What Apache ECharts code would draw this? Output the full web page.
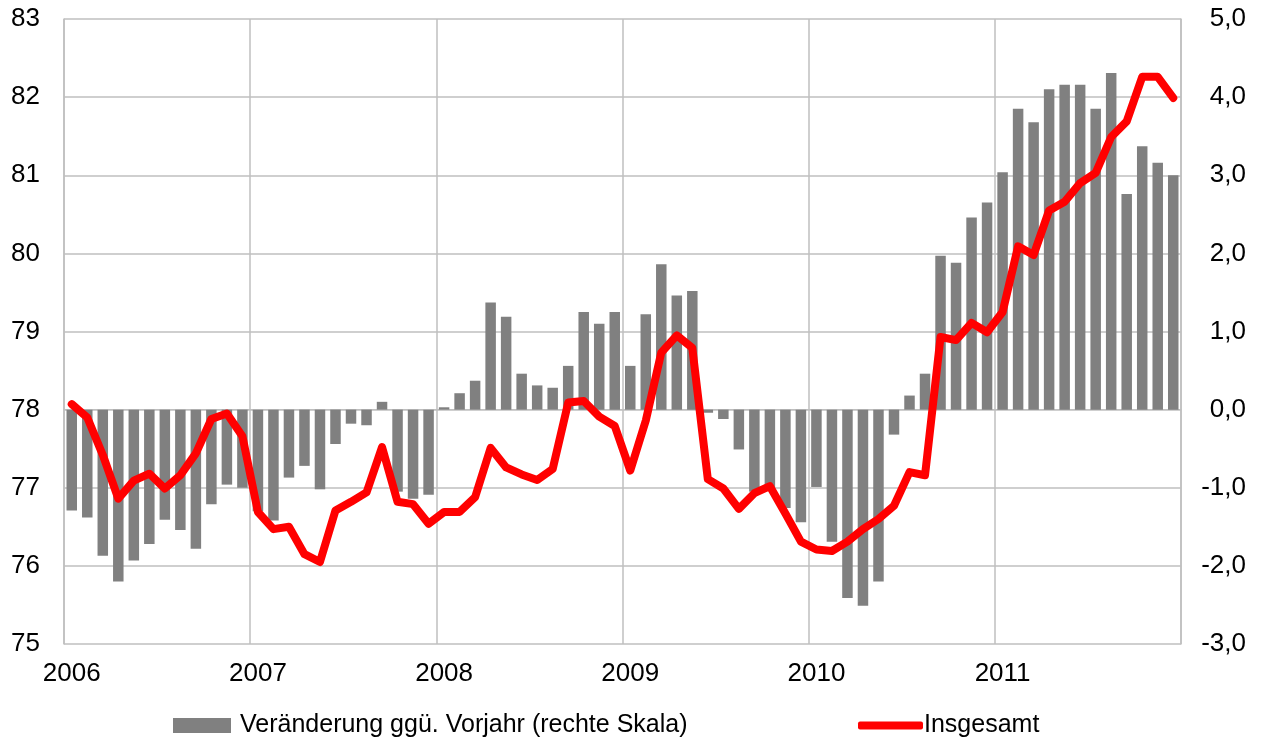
<!DOCTYPE html>
<html>
<head>
<meta charset="utf-8">
<title>Veränderung ggü. Vorjahr</title>
<script src="https://cdn.jsdelivr.net/npm/echarts@6/dist/echarts.min.js"></script>
<style>
  html, body { margin: 0; padding: 0; background: #fff; }
  #chart { width: 1267px; height: 743px; }
</style>
</head>
<body>
<div id="chart"></div>
<script>
// tick labels
const years = ['2006', '2007', '2008', '2009', '2010', '2011']
const leftTicks = [75, 76, 77, 78, 79, 80, 81, 82, 83]
const rightTicks = [-3, -2, -1, 0, 1, 2, 3, 4, 5]

// Veränderung ggü. Vorjahr (rechte Skala), monthly 2006-01 .. 2011-12
const change = [
  -1.29, -1.38, -1.87, -2.20, -1.93, -1.72, -1.41, -1.54, -1.78, -1.21, -0.96, -1.00,
  -1.30, -1.42, -0.87, -0.72, -1.02, -0.44, -0.18, -0.20, 0.10, -1.05, -1.14, -1.09,
  0.03, 0.21, 0.37, 1.37, 1.19, 0.46, 0.31, 0.28, 0.56, 1.25, 1.10, 1.25,
  0.56, 1.22, 1.86, 1.46, 1.52, -0.04, -0.12, -0.51, -1.05, -1.00, -1.26, -1.44,
  -0.99, -1.69, -2.41, -2.51, -2.20, -0.32, 0.18, 0.46, 1.97, 1.88, 2.46, 2.65,
  3.04, 3.85, 3.68, 4.10, 4.16, 4.16, 3.85, 4.31, 2.76, 3.37, 3.16, 3.00
]

// Insgesamt (linke Skala)
const total = [
  78.07, 77.90, 77.42, 76.86, 77.09, 77.18, 76.99, 77.16, 77.44, 77.88, 77.95, 77.66,
  76.69, 76.47, 76.50, 76.15, 76.05, 76.71, 76.82, 76.94, 77.52, 76.82, 76.79, 76.54,
  76.69, 76.69, 76.88, 77.51, 77.26, 77.17, 77.10, 77.24, 78.09, 78.11, 77.91, 77.79,
  77.22, 77.86, 78.73, 78.95, 78.79, 77.11, 76.99, 76.73, 76.93, 77.02, 76.67, 76.31,
  76.21, 76.19, 76.31, 76.47, 76.60, 76.77, 77.20, 77.16, 78.93, 78.89, 79.11, 78.99,
  79.25, 80.09, 79.98, 80.55, 80.66, 80.90, 81.03, 81.49, 81.69, 82.26, 82.26, 81.99
]

const months = []
years.forEach(y => {
  for (let m = 1; m <= 12; m++) months.push(y + '-' + String(m).padStart(2, '0'))
})

const font = "'Liberation Sans', Arial, sans-serif"
const gridColor = '#bfbfbf'

let myChart = echarts.init(document.getElementById('chart'))
myChart.setOption({
  animation: false,
  textStyle: { fontFamily: font },
  grid: { left: 64, right: 86, top: 19, bottom: 99 },
  legend: [
    {
      data: ['Veränderung ggü. Vorjahr (rechte Skala)'],
      left: 168,
      top: 708,
      icon: 'rect',
      itemWidth: 58,
      itemHeight: 15,
      textStyle: { fontSize: 25, color: '#000', fontFamily: font, padding: [0, 0, 0, 4] }
    },
    {
      data: ['Insgesamt'],
      left: 853,
      top: 708,
      icon: 'roundRect',
      itemWidth: 65,
      itemHeight: 8,
      itemStyle: { color: '#ff0000' },
      textStyle: { fontSize: 25, color: '#000', fontFamily: font, padding: [0, 0, 0, -4] }
    }
  ],
  xAxis: {
    type: 'category',
    data: months,
    boundaryGap: true,
    axisLine: { show: true, lineStyle: { color: gridColor, width: 1 } },
    axisTick: { show: false },
    splitLine: { show: true, interval: 11, lineStyle: { color: gridColor, width: 1.5 } },
    axisLabel: {
      interval: 11,
      margin: 17,
      fontSize: 26,
      color: '#000',
      fontFamily: font,
      formatter: v => v.slice(0, 4)
    }
  },
  yAxis: [
    {
      type: 'value',
      min: leftTicks[0],
      max: leftTicks[leftTicks.length - 1],
      interval: 1,
      axisLine: { show: true, lineStyle: { color: gridColor, width: 1.5 } },
      axisTick: { show: false },
      splitLine: { show: true, lineStyle: { color: gridColor, width: 1.5 } },
      axisLabel: { fontSize: 26, color: '#000', margin: 24, fontFamily: font }
    },
    {
      type: 'value',
      min: rightTicks[0],
      max: rightTicks[rightTicks.length - 1],
      interval: 1,
      position: 'right',
      axisLine: { show: true, lineStyle: { color: gridColor, width: 1.5 } },
      axisTick: { show: false },
      splitLine: { show: false },
      axisLabel: {
        fontSize: 26,
        color: '#000',
        margin: 65,
        align: 'right',
        fontFamily: font,
        formatter: v => v.toFixed(1).replace('.', ',')
      }
    }
  ],
  series: [
    {
      name: 'Veränderung ggü. Vorjahr (rechte Skala)',
      type: 'bar',
      yAxisIndex: 1,
      data: change,
      barWidth: 10.5,
      itemStyle: { color: '#808080' }
    },
    {
      name: 'Insgesamt',
      type: 'line',
      yAxisIndex: 0,
      data: total,
      symbol: 'none',
      lineStyle: { color: '#ff0000', width: 8, cap: 'round', join: 'round' },
      itemStyle: { color: '#ff0000' },
      z: 5
    }
  ]
})
</script>
</body>
</html>
